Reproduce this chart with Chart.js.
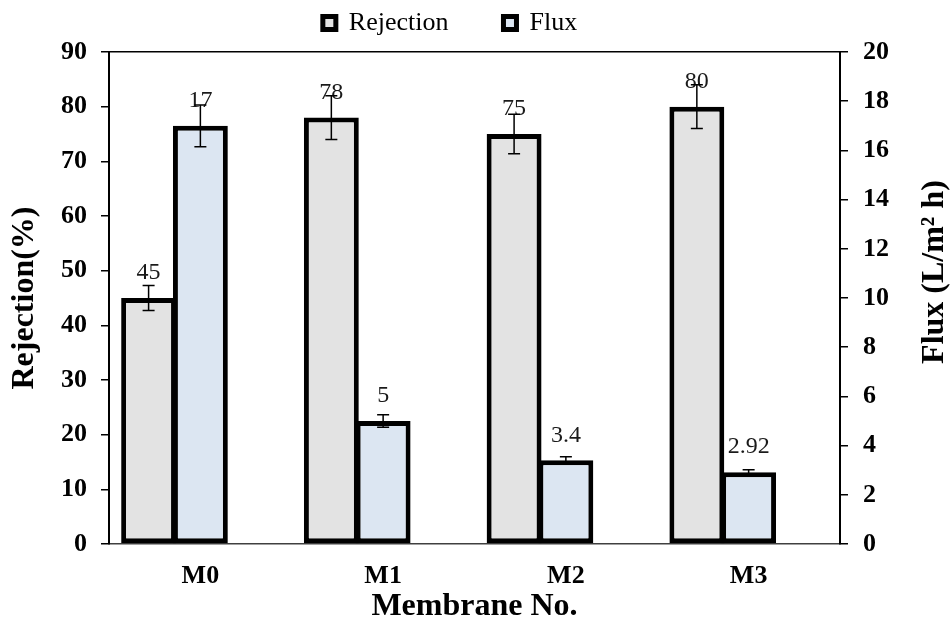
<!DOCTYPE html>
<html>
<head>
<meta charset="utf-8">
<script src="https://cdn.jsdelivr.net/npm/chart.js@4.4.1/dist/chart.umd.min.js"></script>
<style>
  html, body { margin: 0; padding: 0; background: #fff; }
</style>
</head>
<body>
<canvas id="chart" width="951" height="630"></canvas>
<script>
const categories = ['M0', 'M1', 'M2', 'M3'];
const rejection = [45, 78, 75, 80];
const rejectionErr = [2.3, 4, 3.6, 4];
const flux = [17, 5, 3.4, 2.92];
const fluxErr = [0.85, 0.25, 0.15, 0.1];
// empty third slot, the original groups leave room for it
const spacer = categories.map(() => null);

const rejectionRange = [0, 90, 10];
const fluxRange = [0, 20, 2];

const SERIF = '"Times New Roman", "Liberation Serif", serif';

// value labels, error bars and the right axis title
const extras = {
  id: 'extras',
  afterDatasetsDraw(chart) {
    const ctx = chart.ctx;
    const errs = [rejectionErr, fluxErr];
    ctx.save();
    errs.forEach((err, d) => {
      const meta = chart.getDatasetMeta(d);
      const scale = chart.scales[meta.yAxisID];
      const values = chart.data.datasets[d].data;
      meta.data.forEach((bar, i) => {
        ctx.fillStyle = '#1a1a1a';
        ctx.font = '24px ' + SERIF;
        ctx.textAlign = 'center';
        ctx.textBaseline = 'middle';
        ctx.fillText(String(values[i]), bar.x, bar.y - 25);

        const top = scale.getPixelForValue(values[i] + err[i]);
        const bot = scale.getPixelForValue(values[i] - err[i]);
        ctx.strokeStyle = '#000';
        ctx.lineWidth = 1.5;
        ctx.beginPath();
        ctx.moveTo(bar.x, top); ctx.lineTo(bar.x, bot);
        ctx.moveTo(bar.x - 6, top); ctx.lineTo(bar.x + 6, top);
        ctx.moveTo(bar.x - 6, bot); ctx.lineTo(bar.x + 6, bot);
        ctx.stroke();
      });
    });

    const y1 = chart.scales.y1;
    ctx.translate(935, (y1.top + y1.bottom) / 2 - 26);
    ctx.rotate(-Math.PI / 2);
    ctx.fillStyle = '#000';
    ctx.font = 'bold 32px ' + SERIF;
    ctx.textAlign = 'center';
    ctx.textBaseline = 'middle';
    ctx.fillText('Flux (L/m\u00b2 h)', 0, 0);
    ctx.restore();
  }
};

const tickFont = { family: SERIF, size: 26, weight: 'bold' };
const titleFont = { family: SERIF, size: 32, weight: 'bold' };

new Chart(document.getElementById('chart'), {
  type: 'bar',
  data: {
    labels: categories,
    datasets: [
      { label: 'Rejection', data: rejection, yAxisID: 'y', backgroundColor: '#e3e3e3',
        borderColor: '#000', borderWidth: 5, borderSkipped: false },
      { label: 'Flux', data: flux, yAxisID: 'y1', backgroundColor: '#dce6f2',
        borderColor: '#000', borderWidth: 5, borderSkipped: false },
      { label: '', data: spacer, yAxisID: 'y' }
    ]
  },
  options: {
    responsive: false,
    animation: false,
    categoryPercentage: 0.85,
    barPercentage: 1.06,
    layout: { padding: { left: 0, right: 51, top: -45, bottom: 0 } },
    plugins: {
      tooltip: { enabled: false },
      legend: {
        position: 'top',
        labels: {
          color: '#000',
          font: { family: SERIF, size: 26 },
          boxWidth: 13,
          boxHeight: 13,
          padding: 55,
          filter: item => item.text !== ''
        }
      }
    },
    scales: {
      x: {
        offset: true,
        grid: { display: false },
        border: { display: true, color: '#404040', width: 1.5 },
        ticks: { color: '#000', font: tickFont, padding: 9, maxRotation: 0, autoSkip: false },
        title: { display: true, text: 'Membrane No.', color: '#000', font: titleFont,
                 padding: { top: 0, bottom: 4 } },
        afterFit(s) { s.height = 86; }
      },
      top: {
        type: 'linear',
        position: 'top',
        display: true,
        ticks: { display: false },
        grid: { display: false },
        border: { display: true, color: '#000', width: 1.5 },
        afterFit(s) { s.height = 6; }
      },
      y: {
        position: 'left',
        min: rejectionRange[0],
        max: rejectionRange[1],
        ticks: { stepSize: rejectionRange[2], color: '#000', font: tickFont, padding: 14 },
        grid: { drawOnChartArea: false, drawTicks: true, tickLength: 8, color: '#000', lineWidth: 1.5 },
        border: { color: '#000', width: 2 },
        title: { display: true, text: 'Rejection(%)', color: '#000', font: titleFont,
                 padding: { top: 6, bottom: 0 } },
        afterFit(s) { s.width = 109; }
      },
      y1: {
        position: 'right',
        min: fluxRange[0],
        max: fluxRange[1],
        ticks: { stepSize: fluxRange[2], color: '#000', font: tickFont, padding: 15 },
        grid: { drawOnChartArea: false, drawTicks: true, tickLength: 8, color: '#000', lineWidth: 1.5 },
        border: { color: '#000', width: 2 },
        afterFit(s) { s.width = 60; }
      }
    }
  },
  plugins: [extras]
});
</script>
</body>
</html>
